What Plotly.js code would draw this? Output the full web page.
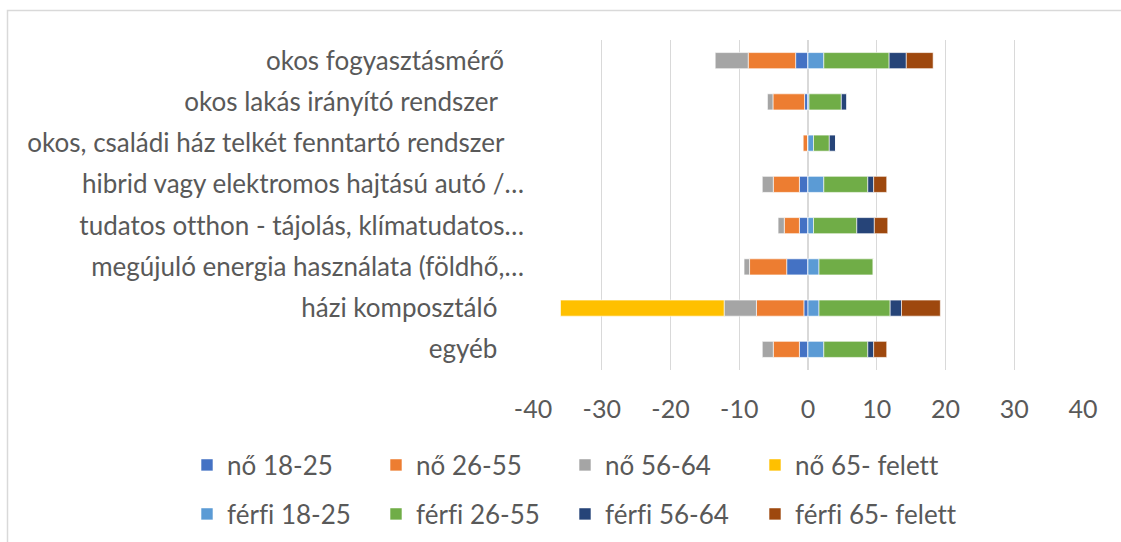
<!DOCTYPE html>
<html>
<head>
<meta charset="utf-8">
<script src="https://cdn.plot.ly/plotly-3.0.1.min.js"></script>
<style>
html,body{margin:0;padding:0;background:#fff;}
#chart{width:1121px;height:542px;}
text{font-variant-ligatures:none;font-feature-settings:"liga" 0;}
</style>
</head>
<body>
<div id="chart"></div>
<script>
const categories = [
  "okos fogyasztásmérő\u00a0\u00a0\u00a0",
  "okos lakás irányító rendszer\u00a0\u00a0\u00a0\u00a0",
  "okos, családi ház telkét fenntartó rendszer\u00a0\u00a0\u00a0",
  "hibrid vagy elektromos hajtású autó /…",
  "tudatos otthon - tájolás, klímatudatos…",
  "megújuló energia használata (földhő,…",
  "házi komposztáló\u00a0\u00a0\u00a0\u00a0",
  "egyéb\u00a0\u00a0\u00a0\u00a0"
];
const seriesNames = ["nő 18-25","nő 26-55","nő 56-64","nő 65- felett","férfi 18-25","férfi 26-55","férfi 56-64","férfi 65- felett"];
const no_18_25     = [-1.8, -0.5, 0, -1.25, -1.25, -3.1, -0.6, -1.25];
const no_26_55     = [-6.9, -4.6, -0.7, -3.8, -2.2, -5.4, -6.9, -3.8];
const no_56_64     = [-4.8, -0.8, 0, -1.6, -0.9, -0.8, -4.7, -1.6];
const no_65_felett = [0, 0, 0, 0, 0, 0, -23.8, 0];
const ferfi_18_25     = [2.3, 0.15, 0.8, 2.3, 0.8, 1.6, 1.6, 2.3];
const ferfi_26_55     = [9.5, 4.7, 2.3, 6.4, 6.3, 7.9, 10.35, 6.4];
const ferfi_56_64     = [2.5, 0.8, 0.9, 0.85, 2.55, 0, 1.65, 0.85];
const ferfi_65_felett = [3.9, 0, 0, 1.9, 1.95, 0, 5.65, 1.9];
const xTicks = [-40,-30,-20,-10,0,10,20,30,40];

const seriesValues = [no_18_25,no_26_55,no_56_64,no_65_felett,ferfi_18_25,ferfi_26_55,ferfi_56_64,ferfi_65_felett];
const colors = ["#4472C4","#ED7D31","#A5A5A5","#FFC000","#5B9BD5","#70AD47","#264478","#9E480E"];

const W = 1121, H = 542;
const M = {l: 533, r: 38, t: 40, b: 172, autoexpand: false};
const pw = W - M.l - M.r, ph = H - M.t - M.b;
const px2x = p => (p - M.l) / pw;
const py2y = p => (H - M.b - p) / ph;

const textColor = "#595959";
const fontFam = "Lato, 'Noto Sans', sans-serif";
const fs = 26;

// legend grid: 4 columns x 2 rows (pixel positions of swatch centres)
const legendColX = [207, 396, 585, 775];
const legendRowY = [465, 514];

const legendKeys = seriesNames.map((_, i) => i === 0 ? "legend" : "legend" + (i + 1));

const traces = seriesValues.map((vals, i) => ({
  type: "bar",
  orientation: "h",
  name: seriesNames[i],
  y: categories,
  x: vals,
  marker: {color: colors[i], line: {color: "#ffffff", width: 0.6}},
  legend: legendKeys[i],
  hoverinfo: "name+x"
}));

const layout = {
  width: W, height: H,
  margin: M,
  paper_bgcolor: "#ffffff",
  plot_bgcolor: "#ffffff",
  barmode: "relative",
  bargap: 0.61,
  font: {family: fontFam, size: fs, color: textColor},
  showlegend: true,
  xaxis: {
    range: [-40, 40],
    tickvals: xTicks,
    ticktext: xTicks.map(String),
    showgrid: true,
    gridcolor: "#d9d9d9",
    gridwidth: 1.3,
    zeroline: false,
    showline: false,
    ticks: "",
    ticklabelstandoff: 22,
    tickfont: {family: fontFam, size: 25, color: textColor},
    fixedrange: true
  },
  yaxis: {
    type: "category",
    autorange: "reversed",
    showgrid: false,
    zeroline: false,
    showline: false,
    ticks: "",
    ticklabelstandoff: 8,
    tickfont: {family: fontFam, size: fs, color: textColor},
    fixedrange: true
  },
  shapes: [{
    type: "rect", xref: "paper", yref: "paper",
    x0: px2x(7.5), x1: px2x(1130), y0: py2y(560), y1: py2y(10.5),
    line: {color: "#d9d9d9", width: 1.5}, fillcolor: "rgba(0,0,0,0)", layer: "below"
  }]
};

legendKeys.forEach((k, i) => {
  const col = i % 4, row = Math.floor(i / 4);
  layout[k] = {
    orientation: "h",
    xanchor: "left",
    yanchor: "middle",
    x: px2x(legendColX[col] - 20),
    y: py2y(legendRowY[row]),
    font: {family: fontFam, size: fs, color: textColor},
    bgcolor: "rgba(0,0,0,0)",
    borderwidth: 0
  };
});

Plotly.newPlot("chart", traces, layout, {displayModeBar: false, staticPlot: true});
</script>
</body>
</html>
